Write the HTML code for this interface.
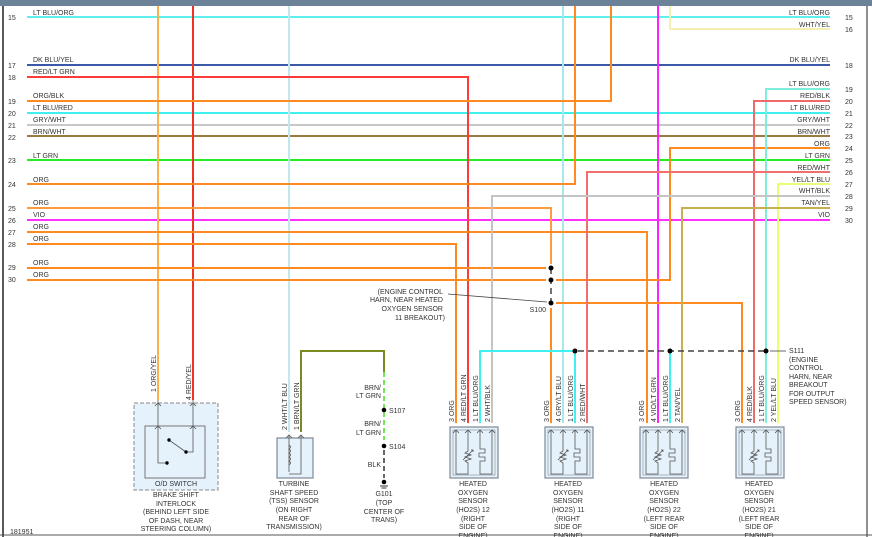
<!DOCTYPE html>
<html><head><meta charset="utf-8"><style>
html,body{margin:0;padding:0;background:#fff;}
svg{display:block;font-family:"Liberation Sans",sans-serif;}
text{fill:#333;font-size:7px;}
</style></head><body>
<svg width="872" height="537" viewBox="0 0 872 537" xmlns="http://www.w3.org/2000/svg">
<defs>
<g id="sens">
<rect x="0" y="0" width="48" height="51" fill="#e6f2fb" stroke="#7d8896" stroke-width="1.2"/>
<rect x="3" y="3" width="42" height="45" fill="none" stroke="#7d8896" stroke-width="0.6"/>
<g fill="none" stroke="#555" stroke-width="0.8">
<path d="M3,6 L6,3 L9,6 M15,6 L18,3 L21,6 M27,6 L30,3 L33,6 M39,6 L42,3 L45,6"/>
<path d="M6,3 V47 H18 V36 L15,34 L21,32 L15,30 L21,28 L15,26 L18,24 V3"/>
<path d="M13,33 L23,23 M21,23 L23,23 L23,25"/>
<path d="M30,3 V22 H35 V26 H29 V30 H35 V34 H30 V47 H42 V3"/>
</g>
</g>
</defs>
<rect x="0" y="0" width="872" height="6" fill="#6c8299"/>
<line x1="3" y1="6" x2="3" y2="537" stroke="#222" stroke-width="1.5"/>
<line x1="867" y1="6" x2="867" y2="537" stroke="#222" stroke-width="1"/>
<line x1="0" y1="535" x2="872" y2="535" stroke="#555" stroke-width="1"/>

<g fill="none" stroke-width="2">
<!-- horizontal through -->
<line x1="27" y1="17" x2="830" y2="17" stroke="#5ef0ee"/>
<line x1="27" y1="65" x2="830" y2="65" stroke="#3a5aa8"/>
<line x1="27" y1="113" x2="830" y2="113" stroke="#3ef0f0"/>
<line x1="27" y1="125" x2="830" y2="125" stroke="#c8c8c8"/>
<line x1="27" y1="136" x2="830" y2="136" stroke="#9a7a40"/>
<line x1="27" y1="160" x2="830" y2="160" stroke="#22ee22"/>
<line x1="27" y1="220" x2="830" y2="220" stroke="#ff30ff"/>
<!-- verticals full -->
<line x1="158" y1="6" x2="158" y2="400" stroke="#ffb04a"/>
<line x1="193" y1="6" x2="193" y2="400" stroke="#ee3322"/>
<line x1="289" y1="6" x2="289" y2="432" stroke="#bfe8ef"/>
<line x1="563" y1="6" x2="563" y2="423" stroke="#a8e8ea"/>
<line x1="658" y1="6" x2="658" y2="423" stroke="#ff22ff"/>
<!-- left to vertical -->
<polyline points="27,77 468,77 468,423" stroke="#ff3a3a"/>
<polyline points="27,101 611,101 611,6" stroke="#ff8a20"/>
<polyline points="27,184 575,184 575,6" stroke="#ff8a20"/>
<polyline points="27,208 551,208 551,264" stroke="#ff9a40"/>
<polyline points="27,232 647,232 647,423" stroke="#ff8a20"/>
<polyline points="27,244 456,244 456,423" stroke="#ff8a20"/>
<polyline points="27,268 546,268" stroke="#ff8a20"/>
<polyline points="27,280 546,280" stroke="#ff8a20"/>
<polyline points="556,280 670,280 670,148 830,148" stroke="#ff8a20"/>
<polyline points="556,303 742,303 742,423" stroke="#ff8a20"/>
<line x1="551" y1="308" x2="551" y2="423" stroke="#ff8a20"/>
<!-- right to vertical -->
<polyline points="830,29 670,29 670,6" stroke="#f4f0b0"/>
<polyline points="830,89 766,89 766,423" stroke="#7eeedc"/>
<polyline points="830,101 754,101 754,423" stroke="#f06a6a"/>
<polyline points="830,172 587,172 587,423" stroke="#f07070"/>
<polyline points="830,184 778,184 778,423" stroke="#eaff70"/>
<polyline points="830,196 492,196 492,423" stroke="#c4c4c4"/>
<polyline points="830,208 682,208 682,423" stroke="#c8b050"/>
<!-- S111 -->
<polyline points="480,423 480,351 575,351" stroke="#3ef0f0"/>
<line x1="575" y1="351" x2="575" y2="423" stroke="#3ef0f0"/>
<line x1="670" y1="351" x2="670" y2="423" stroke="#3ef0f0"/>
<!-- TSS -->
<polyline points="301,432 301,351 384,351 384,372" stroke="#7a8a20"/>
</g>
<g stroke="#444" stroke-width="1.5" fill="none" stroke-dasharray="6,4">
<line x1="578" y1="351" x2="766" y2="351"/>
<line x1="551" y1="268" x2="551" y2="303"/>
</g>
<g stroke="#44dd22" stroke-width="1.5" stroke-dasharray="5,3"><line x1="384" y1="372" x2="384" y2="440"/></g>
<g stroke="#333" stroke-width="1.5" stroke-dasharray="5,3"><line x1="384" y1="450" x2="384" y2="478"/></g>
<g fill="#000">
<circle cx="551" cy="268" r="2.5"/><circle cx="551" cy="280" r="2.5"/><circle cx="551" cy="303" r="2.5"/>
<circle cx="575" cy="351" r="2.5"/><circle cx="670" cy="351" r="2.5"/><circle cx="766" cy="351" r="2.5"/>
<circle cx="384" cy="410" r="2.3"/><circle cx="384" cy="446" r="2.3"/><circle cx="384" cy="482" r="2.3"/>
</g>
<line x1="380" y1="486" x2="388" y2="486" stroke="#333"/><line x1="381.5" y1="488" x2="386.5" y2="488" stroke="#333"/>
<line x1="448" y1="294" x2="547" y2="302" stroke="#444" stroke-width="0.8"/>
<line x1="770" y1="351" x2="786" y2="351" stroke="#444" stroke-width="0.8"/>

<!-- left labels -->
<g>
<text x="8" y="20">15</text><text x="33" y="15">LT BLU/ORG</text>
<text x="8" y="68">17</text><text x="33" y="62">DK BLU/YEL</text>
<text x="8" y="80">18</text><text x="33" y="74">RED/LT GRN</text>
<text x="8" y="104">19</text><text x="33" y="98">ORG/BLK</text>
<text x="8" y="116">20</text><text x="33" y="110">LT BLU/RED</text>
<text x="8" y="128">21</text><text x="33" y="122">GRY/WHT</text>
<text x="8" y="140">22</text><text x="33" y="134">BRN/WHT</text>
<text x="8" y="163">23</text><text x="33" y="158">LT GRN</text>
<text x="8" y="187">24</text><text x="33" y="182">ORG</text>
<text x="8" y="211">25</text><text x="33" y="205">ORG</text>
<text x="8" y="223">26</text><text x="33" y="217">VIO</text>
<text x="8" y="235">27</text><text x="33" y="229">ORG</text>
<text x="8" y="247">28</text><text x="33" y="241">ORG</text>
<text x="8" y="270">29</text><text x="33" y="265">ORG</text>
<text x="8" y="282">30</text><text x="33" y="277">ORG</text>
</g>
<g text-anchor="end">
<text x="830" y="15">LT BLU/ORG</text><text x="830" y="27">WHT/YEL</text>
<text x="830" y="62">DK BLU/YEL</text><text x="830" y="86">LT BLU/ORG</text>
<text x="830" y="98">RED/BLK</text><text x="830" y="110">LT BLU/RED</text>
<text x="830" y="122">GRY/WHT</text><text x="830" y="134">BRN/WHT</text>
<text x="830" y="146">ORG</text><text x="830" y="158">LT GRN</text>
<text x="830" y="170">RED/WHT</text><text x="830" y="182">YEL/LT BLU</text>
<text x="830" y="193">WHT/BLK</text><text x="830" y="205">TAN/YEL</text>
<text x="830" y="217">VIO</text>
</g>
<g>
<text x="845" y="20">15</text><text x="845" y="32">16</text><text x="845" y="68">18</text>
<text x="845" y="92">19</text><text x="845" y="104">20</text><text x="845" y="116">21</text>
<text x="845" y="128">22</text><text x="845" y="139">23</text><text x="845" y="151">24</text>
<text x="845" y="163">25</text><text x="845" y="175">26</text><text x="845" y="187">27</text>
<text x="845" y="199">28</text><text x="845" y="211">29</text><text x="845" y="223">30</text>
</g>
<g text-anchor="end">
<text x="443" y="294">(ENGINE CONTROL</text><text x="443" y="302">HARN, NEAR HEATED</text>
<text x="443" y="311">OXYGEN SENSOR</text><text x="445" y="320">11 BREAKOUT)</text>
<text x="546" y="312">S100</text>
<text x="381" y="390">BRN/</text><text x="381" y="398">LT GRN</text>
<text x="381" y="426">BRN/</text><text x="381" y="435">LT GRN</text>
<text x="381" y="467">BLK</text>
</g>
<text x="389" y="413">S107</text><text x="389" y="449">S104</text>
<g>
<text x="789" y="353">S111</text><text x="789" y="362">(ENGINE</text><text x="789" y="370">CONTROL</text>
<text x="789" y="379">HARN, NEAR</text><text x="789" y="387">BREAKOUT</text><text x="789" y="396">FOR OUTPUT</text>
<text x="789" y="404">SPEED SENSOR)</text>
<text x="10" y="534" font-size="6">181951</text>
</g>

<!-- O/D switch -->
<rect x="134" y="403" width="84" height="87" fill="#e6f2fb" stroke="#888" stroke-dasharray="4,2"/>
<rect x="145" y="426" width="60" height="52" fill="#e6f2fb" stroke="#777"/>
<g fill="none" stroke="#555" stroke-width="0.8">
<path d="M158,400 V426 M193,400 V426 M158,426 V463 H166 M193,426 V452 H186 M169,440 L186,452"/>
<path d="M155,406 L158,403 L161,406 M190,406 L193,403 L196,406 M155,429 L158,426 L161,429 M190,429 L193,426 L196,429"/>
</g>
<circle cx="167" cy="463" r="1.7"/><circle cx="169" cy="440" r="1.7"/><circle cx="186" cy="452" r="1.7"/>
<text x="176" y="486" text-anchor="middle">O/D SWITCH</text>
<g text-anchor="middle">
<text x="176" y="497">BRAKE SHIFT</text><text x="176" y="506">INTERLOCK</text>
<text x="176" y="514">(BEHIND LEFT SIDE</text><text x="176" y="523">OF DASH, NEAR</text>
<text x="176" y="531">STEERING COLUMN)</text>
</g>
<g transform="translate(156,392) rotate(-90)"><text x="0" y="0">1  ORG/YEL</text></g>
<g transform="translate(191,400) rotate(-90)"><text x="0" y="0">4   RED/YEL</text></g>

<!-- TSS -->
<rect x="277" y="438" width="36" height="40" fill="#e6f2fb" stroke="#7d8896" stroke-width="1.2"/>
<path d="M289,435 V472 M301,435 V474 H289 M286,438 L289,435 L292,438 M298,438 L301,435 L304,438" fill="none" stroke="#555" stroke-width="0.8"/>
<path d="M289,445 q3,2 0,4 q3,2 0,4 q3,2 0,4 q3,2 0,4 q3,2 0,4" fill="none" stroke="#555" stroke-width="0.8"/>
<g transform="translate(287,430) rotate(-90)"><text>2  WHT/LT BLU</text></g>
<g transform="translate(299,430) rotate(-90)"><text>1  BRN/LT GRN</text></g>
<g text-anchor="middle">
<text x="294" y="486">TURBINE</text><text x="294" y="495">SHAFT SPEED</text>
<text x="294" y="503">(TSS) SENSOR</text><text x="294" y="512">(ON RIGHT</text>
<text x="294" y="521">REAR OF</text><text x="294" y="529">TRANSMISSION)</text>
<text x="384" y="496">G101</text><text x="384" y="505">(TOP</text>
<text x="384" y="514">CENTER OF</text><text x="384" y="522">TRANS)</text>
</g>

<!-- sensors -->
<use href="#sens" x="450" y="427"/>
<use href="#sens" x="545" y="427"/>
<use href="#sens" x="640" y="427"/>
<use href="#sens" x="736" y="427"/>
<g>
<g transform="translate(454,422) rotate(-90)"><text>3  ORG</text></g>
<g transform="translate(466,422) rotate(-90)"><text>4  RED/LT GRN</text></g>
<g transform="translate(478,422) rotate(-90)"><text>1  LT BLU/ORG</text></g>
<g transform="translate(490,422) rotate(-90)"><text>2  WHT/BLK</text></g>
<g transform="translate(549,422) rotate(-90)"><text>3  ORG</text></g>
<g transform="translate(561,422) rotate(-90)"><text>4  GRY/LT BLU</text></g>
<g transform="translate(573,422) rotate(-90)"><text>1  LT BLU/ORG</text></g>
<g transform="translate(585,422) rotate(-90)"><text>2  RED/WHT</text></g>
<g transform="translate(644,422) rotate(-90)"><text>3  ORG</text></g>
<g transform="translate(656,422) rotate(-90)"><text>4  VIO/LT GRN</text></g>
<g transform="translate(668,422) rotate(-90)"><text>1  LT BLU/ORG</text></g>
<g transform="translate(680,422) rotate(-90)"><text>2  TAN/YEL</text></g>
<g transform="translate(740,422) rotate(-90)"><text>3  ORG</text></g>
<g transform="translate(752,422) rotate(-90)"><text>4  RED/BLK</text></g>
<g transform="translate(764,422) rotate(-90)"><text>1  LT BLU/ORG</text></g>
<g transform="translate(776,422) rotate(-90)"><text>2  YEL/LT BLU</text></g>
</g>
<g text-anchor="middle">
<text x="473" y="486">HEATED</text><text x="473" y="495">OXYGEN</text><text x="473" y="503">SENSOR</text>
<text x="473" y="512">(HO2S) 12</text><text x="473" y="521">(RIGHT</text><text x="473" y="529">SIDE OF</text><text x="473" y="538">ENGINE)</text>
<text x="568" y="486">HEATED</text><text x="568" y="495">OXYGEN</text><text x="568" y="503">SENSOR</text>
<text x="568" y="512">(HO2S) 11</text><text x="568" y="521">(RIGHT</text><text x="568" y="529">SIDE OF</text><text x="568" y="538">ENGINE)</text>
<text x="664" y="486">HEATED</text><text x="664" y="495">OXYGEN</text><text x="664" y="503">SENSOR</text>
<text x="664" y="512">(HO2S) 22</text><text x="664" y="521">(LEFT REAR</text><text x="664" y="529">SIDE OF</text><text x="664" y="538">ENGINE)</text>
<text x="759" y="486">HEATED</text><text x="759" y="495">OXYGEN</text><text x="759" y="503">SENSOR</text>
<text x="759" y="512">(HO2S) 21</text><text x="759" y="521">(LEFT REAR</text><text x="759" y="529">SIDE OF</text><text x="759" y="538">ENGINE)</text>
</g>
</svg>
</body></html>
